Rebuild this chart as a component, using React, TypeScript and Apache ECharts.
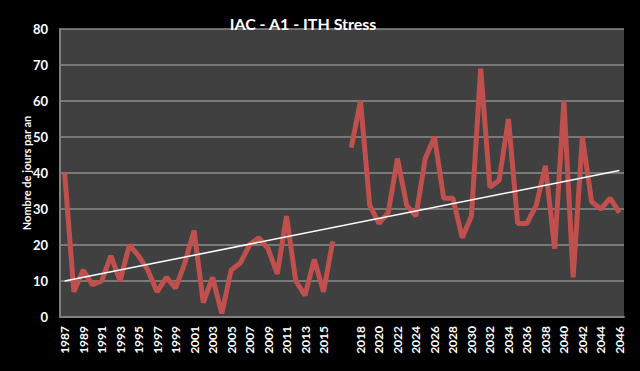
import React, { useEffect, useRef } from "react";
import * as echarts from "echarts";

const yearsObserved = [
  "1987", "1988", "1989", "1990", "1991", "1992", "1993", "1994", "1995", "1996",
  "1997", "1998", "1999", "2000", "2001", "2002", "2003", "2004", "2005", "2006",
  "2007", "2008", "2009", "2010", "2011", "2012", "2013", "2014", "2015", "2016",
];
const yearsProjected = [
  "2017", "2018", "2019", "2020", "2021", "2022", "2023", "2024", "2025", "2026",
  "2027", "2028", "2029", "2030", "2031", "2032", "2033", "2034", "2035", "2036",
  "2037", "2038", "2039", "2040", "2041", "2042", "2043", "2044", "2045", "2046",
];
const valuesObserved = [
  40, 7, 13, 9, 10, 17, 10, 20, 17, 13,
  7, 11, 8, 15, 24, 4, 11, 1, 13, 15,
  20, 22, 19, 12, 28, 10, 6, 16, 7, 21,
];
const valuesProjected = [
  47, 60, 31, 26, 29, 44, 31, 28, 44, 50,
  33, 33, 22, 28, 69, 36, 38, 55, 26, 26,
  31, 42, 19, 60, 11, 50, 32, 30, 33, 29,
];
const trendStart = 10;
const trendEnd = 40.7;

const categories = [...yearsObserved, "", ...yearsProjected];
const values: (number | null)[] = [...valuesObserved, null, ...valuesProjected];

const FONT = "Lato, 'Open Sans', sans-serif";

export default function App() {
  const ref = useRef<HTMLDivElement>(null);
  useEffect(() => {
    if (!ref.current) return;
    const chart = echarts.init(ref.current, undefined, { renderer: "svg" });
    chart.setOption({
      animation: false,
      backgroundColor: "#000000",
      title: {
        text: "IAC - A1 - ITH Stress",
        left: 298,
        top: 10,
        textAlign: "center",
        textStyle: { color: "#ffffff", fontSize: 16, fontWeight: "bold", fontFamily: FONT },
      },
      grid: {
        left: 60,
        top: 29,
        right: 16,
        bottom: 54,
        show: true,
        backgroundColor: "#404040",
        borderWidth: 0,
      },
      xAxis: {
        type: "category",
        data: categories,
        boundaryGap: true,
        axisLine: { show: true, lineStyle: { color: "#808080", width: 2 } },
        axisTick: { show: false },
        axisLabel: {
          interval: 1,
          rotate: 90,
          color: "#ffffff",
          fontSize: 12,
          fontWeight: "bold",
          fontFamily: FONT,
          margin: 9,
        },
        splitLine: { show: false },
      },
      yAxis: {
        type: "value",
        min: 0,
        max: 80,
        interval: 10,
        name: "Nombre de jours par an",
        nameLocation: "middle",
        nameGap: 28,
        nameMoveOverlap: false,
        nameTextStyle: { color: "#ffffff", fontSize: 11, fontWeight: "bold", fontFamily: FONT },
        axisLine: { show: true, lineStyle: { color: "#808080", width: 2 } },
        axisTick: { show: false },
        axisLabel: {
          color: "#ffffff",
          fontSize: 13,
          fontWeight: "bold",
          fontFamily: FONT,
          margin: 12,
        },
        splitLine: { show: true, lineStyle: { color: "#8c8c8c", width: 1.5 } },
      },
      series: [
        {
          type: "line",
          data: values,
          connectNulls: false,
          symbol: "none",
          lineStyle: { color: "#C0504D", width: 5 },
          z: 2,
        },
        {
          type: "line",
          data: [
            [0, trendStart],
            [categories.length - 1, trendEnd],
          ],
          symbol: "none",
          lineStyle: { color: "#ffffff", width: 1.5 },
          z: 3,
        },
      ],
    });
    return () => chart.dispose();
  }, []);
  return <div ref={ref} style={{ width: 640, height: 371, position: "absolute", left: 0, top: 0 }} />;
}
